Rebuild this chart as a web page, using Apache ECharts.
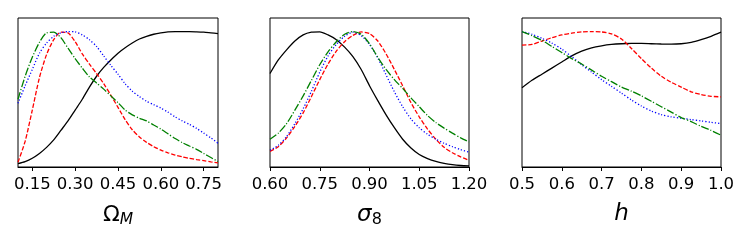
<!DOCTYPE html>
<html>
<head>
<meta charset="utf-8">
<script src="https://cdn.jsdelivr.net/npm/echarts@6/dist/echarts.min.js"></script>
<style>
html,body{margin:0;padding:0;background:#fff;}
#chart{width:748px;height:241px;}
</style>
</head>
<body>
<div id="chart"></div>
<script>
// ---- Panel 1: Omega_M ----
const omX = [0.100,0.125,0.150,0.175,0.200,0.225,0.250,0.275,0.300,0.325,0.350,0.375,0.400,0.425,0.450,0.475,0.500,0.525,0.550,0.575,0.600,0.625,0.650,0.675,0.700,0.725,0.750,0.775,0.800];
const omBlack = [0.025,0.04,0.065,0.10,0.145,0.20,0.27,0.34,0.42,0.50,0.59,0.67,0.735,0.79,0.84,0.88,0.915,0.945,0.965,0.98,0.99,0.997,1.0,1.0,1.0,0.998,0.995,0.99,0.985];
const omRed   = [0.035,0.19,0.42,0.66,0.83,0.94,0.995,0.99,0.925,0.835,0.76,0.69,0.615,0.53,0.44,0.35,0.275,0.222,0.182,0.15,0.125,0.105,0.088,0.075,0.064,0.055,0.047,0.038,0.030];
const omBlue  = [0.47,0.60,0.72,0.84,0.915,0.965,0.99,1.0,0.998,0.975,0.94,0.89,0.82,0.75,0.685,0.615,0.56,0.52,0.485,0.46,0.435,0.405,0.37,0.34,0.315,0.285,0.25,0.215,0.175];
const omGreen = [0.50,0.67,0.81,0.92,0.99,0.995,0.955,0.877,0.80,0.73,0.665,0.62,0.575,0.525,0.475,0.42,0.385,0.36,0.34,0.31,0.28,0.245,0.21,0.18,0.155,0.13,0.10,0.07,0.04];
const omTicks = [0.15,0.30,0.45,0.60,0.75];

// ---- Panel 2: sigma_8 ----
const s8X = [0.600,0.625,0.650,0.675,0.700,0.725,0.750,0.775,0.800,0.825,0.850,0.875,0.900,0.925,0.950,0.975,1.000,1.025,1.050,1.075,1.100,1.125,1.150,1.175,1.200];
const s8Black = [0.69,0.79,0.865,0.93,0.975,0.995,0.998,0.975,0.94,0.885,0.815,0.72,0.60,0.49,0.385,0.29,0.205,0.14,0.092,0.062,0.041,0.027,0.017,0.011,0.008];
const s8Red   = [0.115,0.15,0.215,0.30,0.40,0.52,0.645,0.76,0.855,0.925,0.972,0.997,0.985,0.93,0.835,0.72,0.60,0.475,0.37,0.28,0.205,0.145,0.105,0.075,0.05];
const s8Blue  = [0.124,0.16,0.225,0.32,0.43,0.56,0.70,0.82,0.905,0.965,0.995,0.97,0.905,0.805,0.68,0.555,0.445,0.355,0.29,0.242,0.205,0.175,0.15,0.128,0.11];
const s8Green = [0.205,0.25,0.32,0.42,0.525,0.64,0.755,0.85,0.925,0.98,1.0,0.98,0.91,0.81,0.72,0.645,0.58,0.51,0.445,0.38,0.328,0.287,0.25,0.215,0.185];
const s8Ticks = [0.60,0.75,0.90,1.05,1.20];

// ---- Panel 3: h ----
const hX = [0.500,0.525,0.550,0.575,0.600,0.625,0.650,0.675,0.700,0.725,0.750,0.775,0.800,0.825,0.850,0.875,0.900,0.925,0.950,0.975,1.000];
const hBlack = [0.585,0.64,0.685,0.73,0.775,0.82,0.855,0.88,0.895,0.905,0.91,0.912,0.912,0.91,0.908,0.907,0.91,0.92,0.94,0.965,0.995];
const hRed   = [0.90,0.905,0.93,0.955,0.975,0.988,0.997,1.0,0.997,0.983,0.945,0.875,0.80,0.73,0.67,0.625,0.59,0.555,0.535,0.522,0.518];
const hBlue  = [1.0,0.98,0.95,0.915,0.87,0.815,0.755,0.70,0.645,0.595,0.545,0.495,0.45,0.413,0.387,0.37,0.36,0.35,0.34,0.33,0.32];
const hGreen = [1.0,0.97,0.935,0.89,0.845,0.80,0.76,0.715,0.67,0.63,0.59,0.56,0.525,0.485,0.445,0.405,0.365,0.335,0.30,0.27,0.235];
const hTicks = [0.5,0.6,0.7,0.8,0.9,1.0];

const panels = [
  {x: omX, ys: [omBlack, omRed, omBlue, omGreen], min: 0.1, max: 0.8, ticks: omTicks, dec: 2, left: 18, width: 200,
   name: '{a|Ω}{s|M}'},
  {x: s8X, ys: [s8Black, s8Red, s8Blue, s8Green], min: 0.6, max: 1.2, ticks: s8Ticks, dec: 2, left: 270, width: 199,
   name: '{b|σ}{t|8}'},
  {x: hX, ys: [hBlack, hRed, hBlue, hGreen], min: 0.5, max: 1.0, ticks: hTicks, dec: 1, left: 522, width: 199,
   name: '{b|h}'}
];

const styles = [
  {color: '#000000', type: 'solid'},
  {color: '#ff0000', type: [4.4, 1.9]},
  {color: '#0000ff', type: [1.2, 2.0]},
  {color: '#008000', type: [7.7, 1.9, 1.2, 1.9]}
];

const font = 'DejaVu Sans';
const grids = [], xAxes = [], yAxes = [], series = [];
panels.forEach((p, i) => {
  grids.push({left: p.left, top: 18, width: p.width, height: 149, show: true, borderColor: '#000', borderWidth: 1, backgroundColor: 'transparent'});
  xAxes.push({
    type: 'value', gridIndex: i, min: p.min, max: p.max,
    axisLine: {show: true, onZero: false, lineStyle: {color: '#000', width: 1}},
    axisTick: {show: true, inside: false, length: 4, lineStyle: {color: '#000', width: 1}, customValues: p.ticks},
    axisLabel: {show: true, margin: 9, color: '#000', fontSize: 16.5, fontFamily: font, customValues: p.ticks,
                showMinLabel: true, showMaxLabel: true,
                formatter: v => Number(v).toFixed(p.dec)},
    splitLine: {show: false},
    name: p.name, nameLocation: 'middle', nameGap: 36,
    nameTextStyle: {
      color: '#000', fontFamily: font,
      rich: {
        a: {fontSize: 22, fontFamily: font, color: '#000'},
        s: {fontSize: 15.5, fontFamily: font, fontStyle: 'italic', color: '#000', padding: [9, 0, 0, 0]},
        b: {fontSize: 23, fontFamily: font, fontStyle: 'italic', color: '#000'},
        t: {fontSize: 16, fontFamily: font, color: '#000', padding: [9, 0, 0, 0]}
      }
    }
  });
  yAxes.push({type: 'value', gridIndex: i, min: 0, max: 1.1, show: false, splitLine: {show: false}});
  p.ys.forEach((ys, k) => {
    series.push({
      type: 'line', xAxisIndex: i, yAxisIndex: i, showSymbol: false, symbol: 'none', smooth: 0.25,
      data: p.x.map((xv, j) => [xv, ys[j]]),
      lineStyle: {color: styles[k].color, width: 1.3, type: styles[k].type},
      z: 2 + k, animation: false
    });
  });
});

const chart = echarts.init(document.getElementById('chart'), null, {renderer: 'canvas'});
chart.setOption({animation: false, backgroundColor: '#fff', grid: grids, xAxis: xAxes, yAxis: yAxes, series: series});
</script>
</body>
</html>
